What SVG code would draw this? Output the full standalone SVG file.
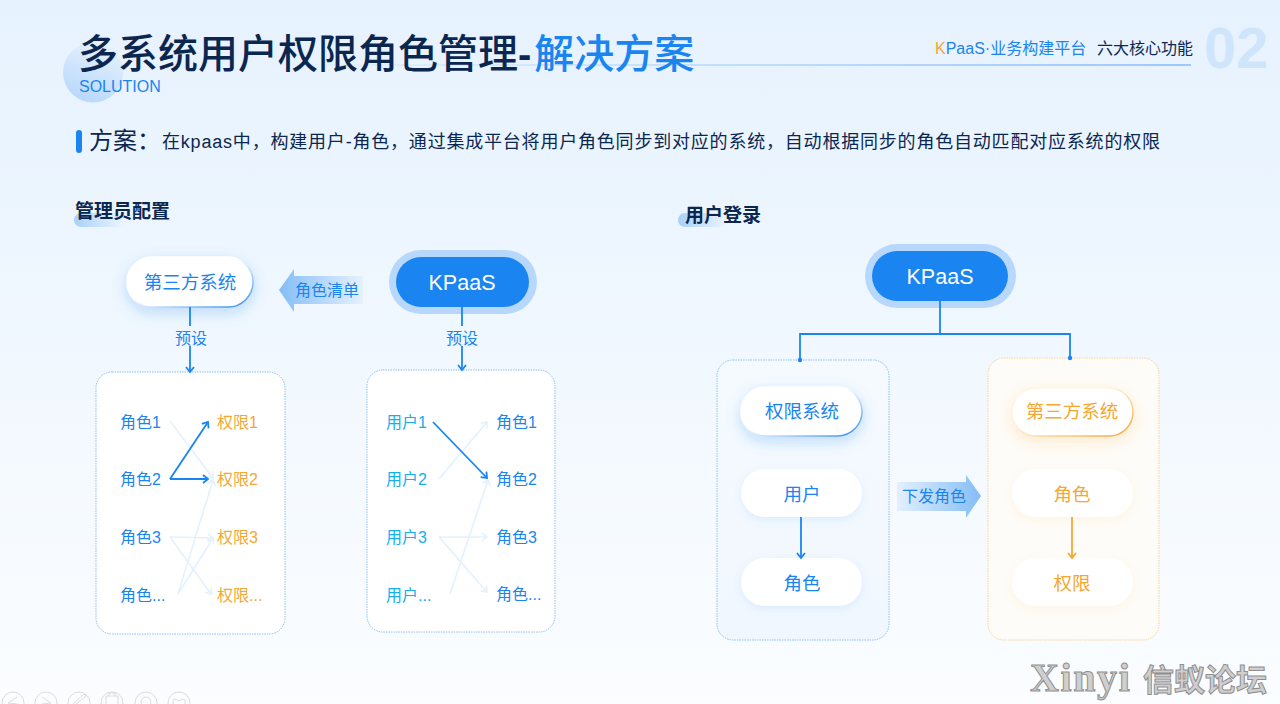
<svg xmlns="http://www.w3.org/2000/svg" width="1280" height="704" viewBox="0 0 1280 704">
<defs>
<linearGradient id="bg" x1="0" y1="0" x2="0" y2="1"><stop offset="0" stop-color="#e6f2fe"/><stop offset="1" stop-color="#fbfdff"/></linearGradient>
<linearGradient id="circ" x1="0.8" y1="0" x2="0.4" y2="1"><stop offset="0" stop-color="#e8f3fe"/><stop offset="1" stop-color="#b9d8fb"/></linearGradient>
<linearGradient id="rule" x1="0" y1="0" x2="1" y2="0"><stop offset="0" stop-color="#9cc8fb" stop-opacity="0"/><stop offset="1" stop-color="#9cc8fb"/></linearGradient>
<linearGradient id="hl" x1="0" y1="0" x2="1" y2="0"><stop offset="0" stop-color="#a9d0f9"/><stop offset="1" stop-color="#a9d0f9" stop-opacity="0"/></linearGradient>
<linearGradient id="arrL" x1="0" y1="0" x2="1" y2="0"><stop offset="0" stop-color="#84bdf6"/><stop offset="1" stop-color="#e6f1fd"/></linearGradient>
<linearGradient id="arrR" x1="0" y1="0" x2="1" y2="0"><stop offset="0" stop-color="#e3f0fd"/><stop offset="1" stop-color="#84bdf6"/></linearGradient>
<linearGradient id="edgeB" x1="0" y1="0" x2="1" y2="1"><stop offset="0.45" stop-color="#ffffff"/><stop offset="1" stop-color="#2a8cf0"/></linearGradient>
<linearGradient id="edgeO" x1="0" y1="0" x2="1" y2="1"><stop offset="0.4" stop-color="#fff4e2"/><stop offset="1" stop-color="#f5a733"/></linearGradient>
<linearGradient id="blueBox" x1="0" y1="0" x2="0" y2="1"><stop offset="0" stop-color="#f5faff"/><stop offset="1" stop-color="#f1f7fe"/></linearGradient>
<filter id="shB" x="-40%" y="-60%" width="180%" height="240%"><feDropShadow dx="0" dy="5" stdDeviation="7" flood-color="#1a85f0" flood-opacity="0.25"/></filter>
<filter id="shO" x="-40%" y="-60%" width="180%" height="240%"><feDropShadow dx="0" dy="5" stdDeviation="7" flood-color="#f5a733" flood-opacity="0.22"/></filter>
<filter id="shL" x="-30%" y="-50%" width="160%" height="200%"><feDropShadow dx="0" dy="3" stdDeviation="4" flood-color="#1a85f0" flood-opacity="0.10"/></filter>
<filter id="shLO" x="-30%" y="-50%" width="160%" height="200%"><feDropShadow dx="0" dy="3" stdDeviation="4" flood-color="#f5a733" flood-opacity="0.09"/></filter>
<marker id="mD" markerUnits="userSpaceOnUse" markerWidth="12" markerHeight="12" refX="8" refY="6" orient="auto"><path d="M3 2 L8 6 L3 10" fill="none" stroke="#1a85f0" stroke-width="1.800"/></marker>
<marker id="mP" markerUnits="userSpaceOnUse" markerWidth="12" markerHeight="12" refX="8" refY="6" orient="auto"><path d="M3 2 L8 6 L3 10" fill="none" stroke="#e3f0fd" stroke-width="1.500"/></marker>
<marker id="mO" markerUnits="userSpaceOnUse" markerWidth="12" markerHeight="12" refX="8" refY="6" orient="auto"><path d="M3 2 L8 6 L3 10" fill="none" stroke="#f5a733" stroke-width="1.800"/></marker>
</defs>
<style>
text{font-family:"Liberation Sans","Noto Sans CJK SC",sans-serif}
.navy{fill:#0b2750}.blue{fill:#1a85f0}.org{fill:#f5a733}.cyan{fill:#16aeee}
.t16{font-size:16px}.t18{font-size:18px}.p18{font-size:18.500px}.mid{text-anchor:middle}
.head{font-size:19px;font-weight:700;fill:#0b2750}
.dark{stroke:#1a85f0;stroke-width:1.800;fill:none;marker-end:url(#mD)}
.pale{stroke:#e3f0fd;stroke-width:1.500;fill:none;marker-end:url(#mP)}
.pl{stroke:#1a85f0;stroke-width:1.800;fill:none}
.box{fill:#fff;stroke:#8cc0f5;stroke-width:1;stroke-dasharray:1.500 1}
.tool{fill:none;stroke:#dcdcdc;stroke-width:1}
.wm{font-family:"Liberation Serif","Noto Sans CJK SC",serif;font-weight:700;fill:#cfcfcf;stroke:#8f8f8f;stroke-width:1}
</style>
<rect width="1280" height="704" fill="url(#bg)"/>

<g id="header">
<ellipse cx="93" cy="72.500" rx="30" ry="30" fill="url(#circ)"/>
<rect x="257" y="64" width="934" height="2" fill="url(#rule)"/>
<text x="78" y="68" font-size="40" class="navy" font-weight="500">多系统用户权限角色管理<tspan font-weight="700">-</tspan><tspan class="blue" dx="3">解决方案</tspan></text>
<text x="79" y="92" class="t16 blue">SOLUTION</text>
<text x="935" y="54" class="t16 blue"><tspan class="org">K</tspan>PaaS·业务构建平台</text>
<text x="1097" y="54" class="t16 navy">六大核心功能</text>
<text x="1204" y="68" font-size="58" font-weight="700" fill="#cfe5fb">02</text>
<rect x="76" y="130" width="6" height="23" rx="3" class="blue"/>
<text x="89" y="149" font-size="24" class="navy">方案：</text>
<text x="162" y="148" class="t18 navy" letter-spacing="0.800">在kpaas中，构建用户-角色，通过集成平台将用户角色同步到对应的系统，自动根据同步的角色自动匹配对应系统的权限</text>
<rect x="74" y="213" width="50" height="14" rx="7" fill="url(#hl)"/>
<text x="75" y="218" class="head">管理员配置</text>
<rect x="678" y="213" width="50" height="14" rx="7" fill="url(#hl)"/>
<text x="685" y="222" class="head">用户登录</text>
</g>

<g id="box-left-a"><rect x="96" y="372" width="189" height="262" rx="16" class="box"/></g>
<g id="box-left-b"><rect x="367" y="370" width="188" height="262" rx="16" class="box"/></g>
<g id="box-perm"><rect x="717" y="360" width="172" height="280" rx="16" fill="url(#blueBox)" stroke="#8cc0f5" stroke-dasharray="1.500 1"/></g>
<g id="box-third"><rect x="988" y="358" width="171" height="282" rx="16" fill="#fefcf8" stroke="#f8d49c" stroke-dasharray="1.500 1"/></g>

<g id="label-preset-a"><text x="191" y="344" class="t16 blue mid">预设</text></g>
<g id="label-preset-b"><text x="462" y="344" class="t16 blue mid">预设</text></g>

<g id="node-third-a"><rect x="127" y="257" width="126" height="50" rx="25" fill="#fff" stroke="url(#edgeB)" stroke-width="1.500" filter="url(#shB)"/><text x="190" y="289" class="p18 blue mid">第三方系统</text></g>
<g id="node-kpaas-a"><rect x="389" y="250" width="148" height="64" rx="32" fill="#b8d8fb"/><rect x="396" y="257" width="133" height="50" rx="25" class="blue"/><text x="462" y="290" font-size="21.500" fill="#fff" class="mid">KPaaS</text></g>
<g id="arrow-role-list"><path d="M279 290 L294 269 V276 H363 V304 H294 V312 Z" fill="url(#arrL)"/><text x="327" y="296" class="t16 blue mid">角色清单</text></g>

<g id="list-a">
<text x="120" y="428" class="t16 blue">角色1</text><text x="120" y="485" class="t16 blue">角色2</text><text x="120" y="543" class="t16 blue">角色3</text><text x="120" y="601" class="t16 blue">角色...</text>
<text x="217" y="428" class="t16 org">权限1</text><text x="217" y="485" class="t16 org">权限2</text><text x="217" y="543" class="t16 org">权限3</text><text x="217" y="601" class="t16 org">权限...</text>
</g>
<g id="list-b">
<text x="386" y="428" class="t16 cyan">用户1</text><text x="386" y="485" class="t16 cyan">用户2</text><text x="386" y="543" class="t16 cyan">用户3</text><text x="386" y="601" class="t16 cyan">用户...</text>
<text x="496" y="428" class="t16 blue">角色1</text><text x="496" y="485" class="t16 blue">角色2</text><text x="496" y="543" class="t16 blue">角色3</text><text x="496" y="600" class="t16 blue">角色...</text>
</g>

<g id="node-kpaas-b"><rect x="865" y="244" width="151" height="64" rx="32" fill="#b8d8fb"/><rect x="872" y="251" width="136" height="50" rx="25" class="blue"/><text x="940" y="284" font-size="21.500" fill="#fff" class="mid">KPaaS</text></g>
<g id="node-perm-system"><rect x="741" y="387" width="121" height="49" rx="24.500" fill="#fff" stroke="url(#edgeB)" stroke-width="1.500" filter="url(#shB)"/><text x="802" y="418" class="p18 blue mid">权限系统</text></g>
<g id="node-user"><rect x="741" y="469" width="121" height="48" rx="24" fill="#fff" filter="url(#shL)"/><text x="802" y="501" class="p18 blue mid">用户</text></g>
<g id="node-role"><rect x="741" y="558" width="121" height="48" rx="24" fill="#fff" filter="url(#shL)"/><text x="802" y="590" class="p18 blue mid">角色</text></g>
<g id="node-third-b"><rect x="1012" y="388" width="121" height="48" rx="24" fill="#fff" stroke="url(#edgeO)" stroke-width="1.500" filter="url(#shO)"/><text x="1072" y="418" class="p18 org mid">第三方系统</text></g>
<g id="node-role-b"><rect x="1012" y="469" width="121" height="48" rx="24" fill="#fff" filter="url(#shLO)"/><text x="1072" y="501" class="p18 org mid">角色</text></g>
<g id="node-permission"><rect x="1012" y="558" width="121" height="48" rx="24" fill="#fff" filter="url(#shLO)"/><text x="1072" y="590" class="p18 org mid">权限</text></g>
<g id="arrow-dispatch"><path d="M897 482 H966 V475 L981 496 L966 518 V511 H897 Z" fill="url(#arrR)"/><text x="934" y="502" class="t16 blue mid">下发角色</text></g>

<g id="connectors">
<path class="pale" d="M170 421 L213 478"/>
<path class="pale" d="M170 537 L213 538"/>
<path class="pale" d="M170 537 L211 594"/>
<path class="pale" d="M178 594 L213 538"/>
<path class="pale" d="M178 594 L213 480"/>
<path class="dark" d="M170 479 L208 422"/>
<path class="dark" d="M170 479 L208 479"/>
<path class="pale" d="M439 479 L487 422"/>
<path class="pale" d="M439 537 L487 537"/>
<path class="pale" d="M439 537 L487 592"/>
<path class="pale" d="M450 594 L488 480"/>
<path class="dark" d="M433 422 L487 478"/>
<path class="pl" d="M190 307 V326"/><path class="dark" d="M190 346 V372"/>
<path class="pl" d="M462 307 V326"/><path class="dark" d="M462 346 V370"/>
<path class="pl" d="M940 301 V334 M800 360 V334 H1070 V358"/>
<circle cx="800" cy="360" r="2.200" class="blue"/>
<circle cx="1070" cy="358" r="2.200" class="blue"/>
<path class="dark" d="M801 517 V558"/>
<path d="M1072 517 V558" fill="none" stroke="#f5a733" stroke-width="1.800" marker-end="url(#mO)"/>
</g>

<g id="toolbar">
<circle cx="13" cy="703" r="11" class="tool"/><path class="tool" d="M17 697 L8 703 L17 704"/>
<circle cx="46" cy="703" r="11" class="tool"/><path class="tool" d="M42 697 L51 703 L42 704"/>
<circle cx="79" cy="703" r="11" class="tool"/><path class="tool" d="M73 704 L84 694 L86 696 L76 704"/>
<circle cx="112" cy="703" r="11" class="tool"/><path class="tool" d="M106 704 V696 H118 V704 M109 696 V693 H115 V696"/>
<circle cx="146" cy="703" r="11" class="tool"/><circle cx="146" cy="702" r="5" class="tool"/>
<circle cx="179" cy="703" r="11" class="tool"/><path class="tool" d="M173 704 V700 Q175 698 177 700 Q179 702 181 700 Q183 698 185 700 V704"/>
</g>

<g id="watermark">
<text x="1030" y="691" font-size="40" letter-spacing="1.600" class="wm">Xinyi</text>
<text x="1143" y="691" font-size="31" class="wm">信蚁论坛</text>
</g>
</svg>
